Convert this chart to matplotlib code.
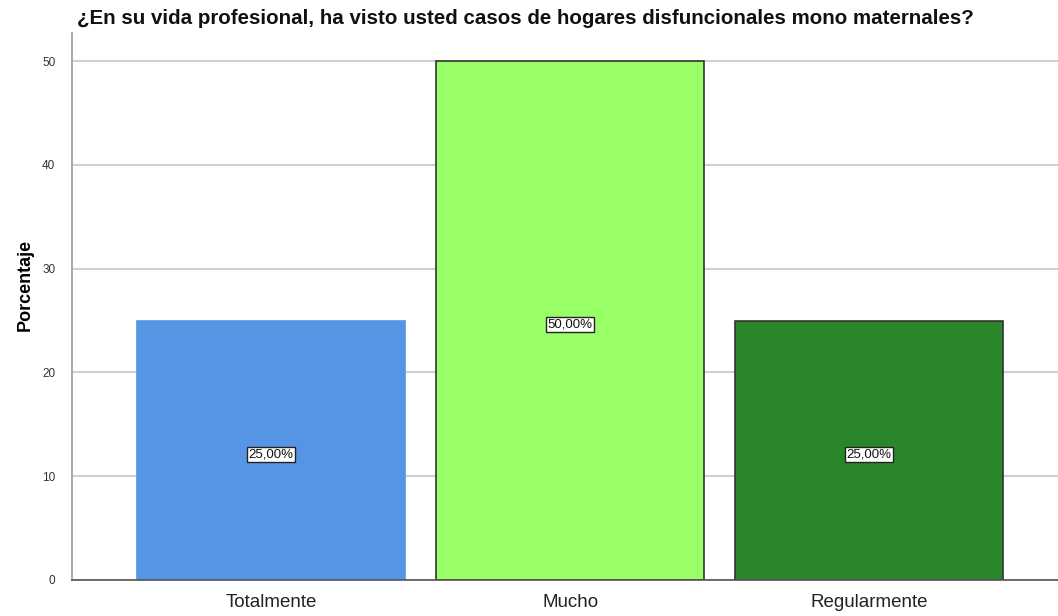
import matplotlib
matplotlib.use("Agg")
import matplotlib.pyplot as plt

categories = ["Totalmente", "Mucho", "Regularmente"]
values = [25.0, 50.0, 25.0]
labels = ["25,00%", "50,00%", "25,00%"]
colors = ["#5595E4", "#99FF66", "#2A862A"]
edges = ["#5595E4", "#333333", "#333333"]
yticks = [0, 10, 20, 30, 40, 50]

plt.rcParams['font.family'] = ['Liberation Sans', 'DejaVu Sans']

fig = plt.figure(figsize=(10.58, 6.16), dpi=100)
ax = fig.add_axes([72/1058, 36/616, 1 - 72/1058, (580-33)/616])

x = list(range(len(categories)))
ax.set_axisbelow(True)
ax.yaxis.grid(True, color="#D0D0D0", linewidth=1.5)
bars = ax.bar(x, values, width=0.896, color=colors, edgecolor=edges, linewidth=1.2, zorder=2)

for xi, v, lab in zip(x, values, labels):
    ax.annotate(lab, (xi, v / 2), xytext=(0, -3), textcoords="offset points",
                ha="center", va="center", fontsize=9.5, color="#111111", zorder=3,
                bbox=dict(boxstyle="square,pad=0.12", facecolor="white", edgecolor="#222222", linewidth=1))

ax.set_xlim(-0.666, 2.632)
ax.set_ylim(0, 52.7)
ax.set_yticks(yticks)
ax.set_yticklabels([str(t) for t in yticks], fontsize=8.5, color="#333333")
ax.set_xticks(x)
ax.set_xticklabels(categories, fontsize=13.5, color="#222222")
ax.tick_params(axis="x", length=0, pad=10)
ax.tick_params(axis="y", length=0, pad=12)

for s in ["top", "right"]:
    ax.spines[s].set_visible(False)
ax.spines["left"].set_color("#999999")
ax.spines["bottom"].set_color("#555555")
ax.spines["left"].set_linewidth(1.2)
ax.spines["bottom"].set_linewidth(1.2)

ax.set_ylabel("Porcentaje", fontsize=13, fontweight="bold")
ax.yaxis.set_label_coords(-0.039, 0.54)
fig.text(77/1058, 1 - 18/616, "¿En su vida profesional, ha visto usted casos de hogares disfuncionales mono maternales?",
         ha="left", va="center", fontsize=14.8, fontweight="bold", color="#111111")

fig.savefig("out.png", dpi=100)
